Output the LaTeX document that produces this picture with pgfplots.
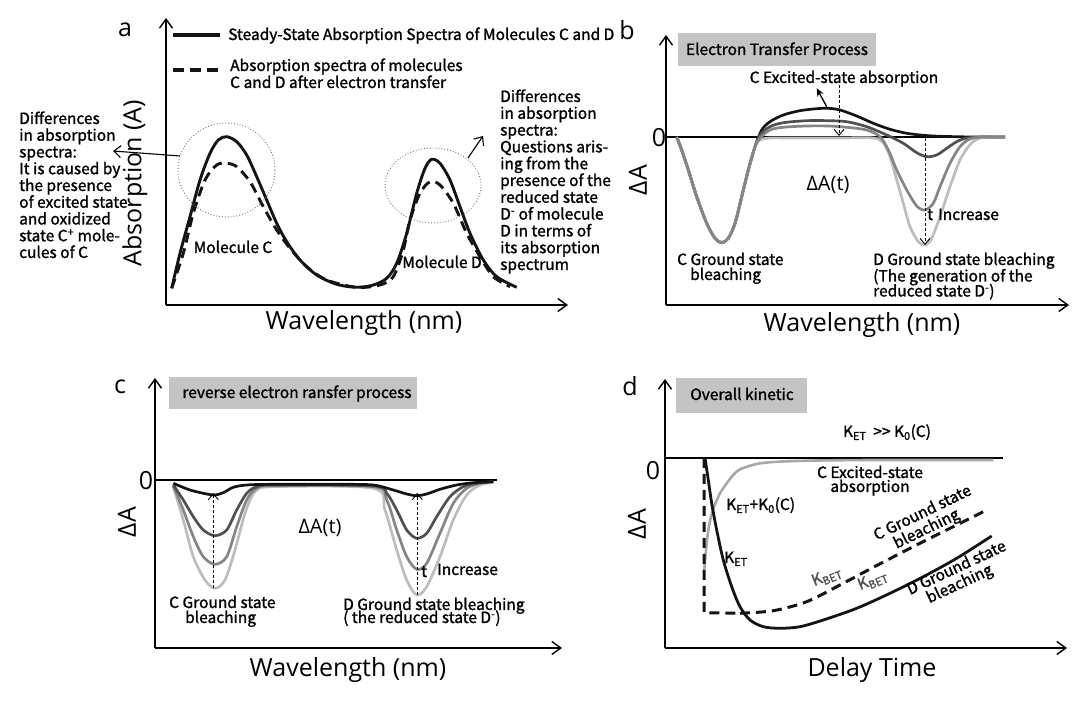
\documentclass[border=0pt]{standalone}
\usepackage{fontspec}
\setmainfont{Noto Sans CJK SC}[FakeBold=1.4]
\newfontfamily\labfont{Open Sans}
\usepackage{pgfplots}
\pgfplotsset{compat=1.18}
\usetikzlibrary{arrows.meta}

\definecolor{cK}{HTML}{141414}
\definecolor{cD}{HTML}{505050}
\definecolor{cM}{HTML}{858585}
\definecolor{cL}{HTML}{BDBDBD}
\definecolor{cG}{HTML}{A8A8A8}
\definecolor{boxg}{HTML}{C4C4C4}

\newcommand\bt{\fontsize{15.5}{16.7}\selectfont}
\newcommand\lab{\labfont\fontsize{25}{28}\selectfont}
\newcommand\labs{\labfont\fontsize{20}{22}\selectfont}

\pgfplotsset{panel/.style={scale only axis, axis lines=left, clip=false,
  xtick=\empty, ytick=\empty, enlargelimits=false,
  axis line style={line width=1.4pt, -{Straight Barb[length=9pt,width=13pt]}}}}
\tikzset{
  darr/.style={line width=0.9pt, dash pattern=on 3pt off 2pt, -{Straight Barb[length=6pt,width=10pt]}},
  txt/.style={font=\bt, inner sep=0, text height=10.5pt, text depth=3pt},
  lab/.style={font=\lab, inner sep=0},
}

\begin{document}
\begin{tikzpicture}[x=1pt,y=1pt]
\path[use as bounding box] (0,0) rectangle (1080,707);

% ---------------- panel a ----------------
\begin{axis}[panel, at={(166pt,402pt)}, anchor=south west, width=402pt, height=287pt,
  xmin=0, xmax=402, ymin=0, ymax=287]
\addplot[cK, line width=2.9pt, smooth] coordinates {
(5.7,16.7) (14,51.7) (24,88.3) (34,125) (44,151.7) (52.3,165) (60.7,168.3) (70.7,163.3)
(80.7,150) (90.7,128.3) (100.7,105) (110.7,81.7) (120.7,63.3) (134,45) (150.7,30)
(170.7,20.7) (190.7,17.7) (207.3,20) (220.7,26.7) (230.7,41.7) (240.7,71.7) (250.7,111.7)
(259,136.7) (265.7,145.7) (274,141.7) (284,125) (294,98.3) (304,71.7) (317.3,45)
(330.7,28.3) (350.7,17.7)};
\addplot[cK, line width=2.9pt, smooth, dash pattern=on 10pt off 6pt] coordinates {
(5.7,16.7) (17.3,51.7) (27.3,91.7) (39,125) (50.7,140) (60.7,141.7) (70.7,138.3)
(84,123.3) (97.3,98.3) (110.7,75) (124,56.7) (140.7,38.3) (160.7,25) (190.7,17.7)
(214,20) (227.3,28.3) (237.3,55) (244,85) (254,111.7) (264,123.3) (274,120)
(287.3,101.7) (300.7,71.7) (314,48.3) (327.3,28.3) (344,18.3)};
\draw[cK, line width=3.4pt] (axis cs:7,270) -- (axis cs:54,270);
\draw[cK, line width=3.4pt, dash pattern=on 11pt off 6pt] (axis cs:7,235) -- (axis cs:54,235);
\draw[gray!90!black, dotted, line width=0.9pt] (axis cs:60.5,135) ellipse [x radius=48.5pt, y radius=47pt];
\draw[gray!90!black, dotted, line width=0.9pt] (axis cs:267,119.5) ellipse [x radius=48pt, y radius=37.5pt];
\draw[line width=1.1pt, -{Straight Barb[length=7pt,width=12pt]}] (axis cs:14,149) -- (axis cs:-53,154);
\draw[line width=1.1pt, -{Straight Barb[length=7pt,width=12pt]}] (axis cs:302,147) -- (axis cs:317,169);
\end{axis}

% ---------------- panel b ----------------
\begin{axis}[panel, at={(666pt,402pt)}, anchor=south west, width=403pt, height=270pt,
  xmin=0, xmax=403, ymin=-168, ymax=102]
\draw[line width=1.3pt] (axis cs:0,0) -- (axis cs:339,0);
\addplot[cK, line width=2.7pt, smooth] coordinates {
(10.7,0) (15.7,-13) (22.3,-33) (30.7,-59.7) (40.7,-86.3) (49,-101.3) (55.7,-105.7)
(62.3,-101.3) (69,-86.3) (75.7,-59.7) (82.3,-33) (89,-9.7)
(95.7,7) (104,15.3) (117.3,22) (134,26.3) (150.7,28.3) (162.3,28.7) (174,27) (190.7,21)
(207.3,13.7) (224,7.7) (240.7,3.7) (257.3,1.7) (274,0.7) (290.7,0.3) (307.3,0) (339,0)};
\addplot[cD, line width=2.7pt, smooth] coordinates {
(10.7,0) (15.7,-13) (22.3,-33) (30.7,-59.7) (40.7,-86.3) (49,-101.3) (55.7,-105.7)
(62.3,-101.3) (69,-86.3) (75.7,-59.7) (82.3,-33) (89,-9.7)
(94,2) (104,10.3) (117.3,14.3) (140.7,16.3) (162.3,16.3) (180.7,15.3) (200.7,10.3)
(220.7,2) (237.3,-6.3) (250.7,-15.7) (260.7,-19.7) (270.7,-18) (280.7,-11.3)
(290.7,-4.7) (300.7,-1) (317.3,0) (339,0)};
\addplot[cL, line width=2.7pt, smooth] coordinates {
(10.7,0) (15.7,-13) (22.3,-33) (30.7,-59.7) (40.7,-86.3) (49,-101.3) (55.7,-105.7)
(62.3,-101.3) (69,-86.3) (75.7,-59.7) (82.3,-33) (89,-9.7)
(94,-3) (104,-1) (124,-1) (174,-1) (207.3,-1) (217.3,-6) (224,-19.7) (230.7,-43)
(237.3,-66.3) (244,-89.7) (252.3,-104.7) (259,-108) (265.7,-101.3) (274,-79.7)
(284,-49.7) (294,-23) (304,-7.7) (314,-1) (327.3,0) (339,0)};
\addplot[cM, line width=2.7pt, smooth] coordinates {
(10.7,0) (15.7,-13) (22.3,-33) (30.7,-59.7) (40.7,-86.3) (49,-101.3) (55.7,-105.7)
(62.3,-101.3) (69,-86.3) (75.7,-59.7) (82.3,-33) (89,-9.7)
(94,-1) (104,7) (117.3,9.7) (140.7,11) (162.3,11) (180.7,9.7) (200.7,7) (214,0.3)
(222.3,-13) (230.7,-33) (240.7,-53) (250.7,-69) (259,-73) (267.3,-66.3) (274,-49.7)
(284,-26.3) (294,-9.7) (304,-2) (317.3,0) (339,0)};
\draw[darr] (axis cs:173,52) -- (axis cs:173,1);
\draw[line width=1.3pt, -{Stealth[length=8pt,width=7pt]}] (axis cs:160.7,30.3) -- (axis cs:150.7,48.7);
\draw[darr] (axis cs:259,-1) -- (axis cs:259,-108);
\end{axis}

% ---------------- panel c ----------------
\begin{axis}[panel, at={(155pt,59pt)}, anchor=south west, width=407pt, height=270pt,
  xmin=0, xmax=407, ymin=-168, ymax=102]
\draw[line width=1.3pt] (axis cs:0,0) -- (axis cs:341.7,0);
\addplot[cL, line width=2.7pt, smooth] coordinates {
(18.3,-6.7) (28.3,-40) (38.3,-76.7) (50,-100) (60,-108.3) (70,-100) (80,-70) (90,-33.3)
(100,-11.7) (118.3,-6.7) (218.3,-8.3) (230,-30) (241.7,-70) (251.7,-100) (261.7,-115)
(271.7,-106.7) (285,-76.7) (298.3,-40) (311.7,-15) (325,-5) (338.3,-2.3)};
\addplot[cM, line width=2.7pt, smooth] coordinates {
(18.3,-6) (28.3,-30) (38.3,-56.7) (48.3,-76.7) (60,-84.3) (71.7,-76.7) (81.7,-46.7)
(91.7,-20) (101.7,-8.3) (118.3,-5.7) (218.3,-6.7) (231.7,-20) (241.7,-50) (251.7,-76.7)
(261.7,-89.3) (271.7,-83.3) (285,-53.3) (298.3,-23.3) (311.7,-8.3) (325,-3.3) (338.3,-1.7)};
\addplot[cD, line width=2.7pt, smooth] coordinates {
(18.3,-5) (28.3,-20) (38.3,-36.7) (48.3,-50) (60,-55.7) (71.7,-50) (81.7,-30) (91.7,-13.3)
(101.7,-6.7) (118.3,-5) (218.3,-6) (231.7,-13.3) (241.7,-30) (251.7,-50) (261.7,-58.3)
(271.7,-53.3) (281.7,-36.7) (295,-16.7) (308.3,-6.7) (321.7,-3.3) (338.3,-1.7)};
\addplot[cK, line width=2.7pt, smooth] coordinates {
(18.3,-3.3) (35,-10) (51.7,-14) (60,-15) (68.3,-12.7) (78.3,-7.3) (91.7,-5) (118.3,-4.3)
(185,-4.3) (218.3,-5) (238.3,-10) (251.7,-14) (261.7,-15.7) (271.7,-14) (285,-9.3)
(301.7,-5) (318.3,-2.7) (338.3,-1.7)};
\draw[darr] (axis cs:58.3,-108.3) -- (axis cs:58.3,-13);
\draw[darr] (axis cs:262.3,-115) -- (axis cs:262.3,-13);
\end{axis}

% ---------------- panel d ----------------
\begin{axis}[panel, at={(665pt,59pt)}, anchor=south west, width=402pt, height=269pt,
  xmin=0, xmax=402, ymin=-190, ymax=79]
\draw[line width=1.3pt] (axis cs:0,0) -- (axis cs:338.3,0);
\addplot[cG, line width=2.6pt, smooth] coordinates {
(39.3,-112) (41,-92) (43.3,-72) (46,-58.7) (49,-48.7) (55,-35.3) (61.7,-25.3) (68.3,-17)
(75,-11.3) (91.7,-6) (108.3,-4) (141.7,-2.7) (208.3,-2) (328.3,-2)};
\addplot[cK, line width=3pt, dash pattern=on 10pt off 6pt] coordinates {
(39,0) (39,-154.7) (75,-155.3)};
\addplot[cK, line width=3pt, smooth, dash pattern=on 10pt off 6pt] coordinates {
(75,-155.3) (108.3,-152.7) (141.7,-143.7) (175,-127) (208.3,-109.3) (241.7,-92)
(275,-75.3) (308.3,-58.7) (321.7,-52)};
\addplot[cK, line width=2.8pt, smooth] coordinates {
(40,0) (43.3,-22) (46.7,-45.3) (51.7,-72) (58.3,-102) (66.7,-128.7) (75,-148.7) (85,-162)
(98.3,-168.7) (115,-170.3) (135,-168.7) (158.3,-162) (191.7,-150.3) (225,-135.3)
(258.3,-118.7) (291.7,-100.3) (326.7,-78)};
\end{axis}

% ---------------- text (pixel coordinates) ----------------
\begin{scope}[x=1pt,y=-1pt,yshift=707pt]
% a
\node[lab] at (125,30) {a};
\node[txt, anchor=base west] at (228,40) {Steady-State Absorption Spectra of Molecules C and D};
\node[txt, anchor=base west] at (230,71) {Absorption spectra of molecules};
\node[txt, anchor=base west] at (230,88) {C and D after electron transfer};
\foreach \t [count=\i from 0] in {Differences, in absorption, spectra:, It is caused by,
  the presence, of excited state, and oxidized, state C\textsuperscript{+} mole-, cules of C}
  \node[txt, anchor=base west] at (19,{124+16.75*\i}) {\t};
\foreach \t [count=\i from 0] in {Differences, in absorption, spectra:, Questions aris-,
  ing from the, presence of the, reduced state, D\textsuperscript{-} of molecule,
  D in terms of, its absorption, spectrum}
  \node[txt, anchor=base west] at (500,{102+16.8*\i}) {\t};
\node[txt, anchor=base] at (233,253) {Molecule C};
\node[txt, anchor=base] at (442,268) {Molecule D};
\node[lab, rotate=90] at (135,183) {Absorption (A)};
\node[lab] at (364,323) {Wavelength (nm)};
% b
\node[lab] at (627,30) {b};
\fill[boxg] (678,33) rectangle (876,66);
\node[txt, anchor=base] at (777,55) {Electron Transfer Process};
\node[txt, anchor=base] at (844,83) {C Excited-state absorption};
\node[font=\labs, inner sep=0] at (828,185) {ΔA(t)};
\node[txt, anchor=base west] at (927,220) {t};
\node[txt, anchor=base west] at (938,220) {Increase};
\node[txt, anchor=base west] at (677,265) {C Ground state};
\node[txt, anchor=base west] at (690,280) {bleaching};
\node[txt, anchor=base west] at (873,265) {D Ground state bleaching};
\node[txt, anchor=base west] at (873,281.5) {(The generation of the};
\node[txt, anchor=base west] at (873,296.5) {reduced state D\textsuperscript{-})};
\node[lab, rotate=90] at (638,180) {ΔA};
\node[lab] at (659,138) {0};
\node[lab] at (862,325) {Wavelength (nm)};
% c
\node[lab] at (120,387) {c};
\fill[boxg] (169,377) rectangle (417,409);
\node[txt, anchor=base] at (297,398) {reverse electron ransfer process};
\node[font=\labs, inner sep=0] at (320,528) {ΔA(t)};
\node[txt, anchor=base west] at (421,577) {t};
\node[txt, anchor=base west] at (437,575) {Increase};
\node[txt, anchor=base west] at (169,608) {C Ground state};
\node[txt, anchor=base west] at (185,623) {bleaching};
\node[txt, anchor=base west] at (343,610) {D Ground state bleaching};
\node[txt, anchor=base west] at (343,623) {( the reduced state D\textsuperscript{-})};
\node[lab, rotate=90] at (127,522) {ΔA};
\node[lab] at (146,481) {0};
\node[lab] at (348,670) {Wavelength (nm)};
% d
\node[lab] at (630,386) {d};
\fill[boxg] (676,378) rectangle (807,413);
\node[txt, anchor=base] at (742,400) {Overall kinetic};
\node[txt, anchor=base] at (887,437) {K\textsubscript{ET}\ \ {>}{>} K\textsubscript{0}(C)};
\node[txt, anchor=base] at (870,478) {C Excited-state};
\node[txt, anchor=base] at (870,492) {absorption};
\node[txt, anchor=base west] at (726,510) {K\textsubscript{ET}+K\textsubscript{0}(C)};
\node[txt, anchor=base west] at (724,563) {K\textsubscript{ET}};
\node[txt, text=cD, rotate=22] at (827,577) {K\textsubscript{BET}};
\node[txt, text=cD, rotate=22] at (873,581) {K\textsubscript{BET}};
\node[txt, rotate=26] at (923,514) {C Ground state};
\node[txt, rotate=26] at (927,530) {bleaching};
\node[txt, rotate=25] at (957,569) {D Ground state};
\node[txt, rotate=25] at (960,585) {bleaching};
\node[lab, rotate=90] at (637,524) {ΔA};
\node[lab] at (653,471) {0};
\node[lab] at (872,670) {Delay Time};
\end{scope}
\end{tikzpicture}
\end{document}
